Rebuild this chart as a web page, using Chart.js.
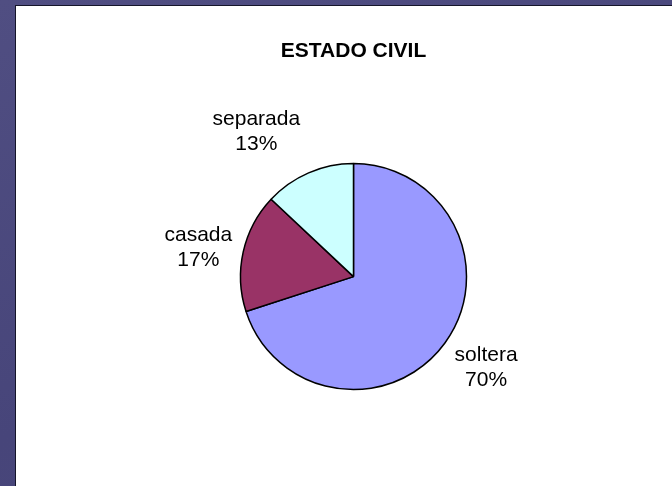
<!DOCTYPE html>
<html>
<head>
<meta charset="utf-8">
<script src="https://cdn.jsdelivr.net/npm/chart.js@4.4.0/dist/chart.umd.min.js"></script>
<style>
  html, body { margin: 0; padding: 0; }
  body {
    width: 672px; height: 486px; overflow: hidden;
    background: linear-gradient(160deg, #504e82 0%, #47457a 60%, #4a4878 100%);
    position: relative;
  }
  #panel {
    position: absolute; left: 15px; top: 5px;
    width: 657px; height: 481px;
    background: #fff;
    border-left: 1px solid #15152a;
    border-top: 1px solid #15152a;
  }
  #estado { display: block; }
</style>
</head>
<body>
<div id="panel">
  <canvas id="estado" width="656" height="480"></canvas>
</div>
<script>
// datos del grafico
const categorias = ["soltera", "casada", "separada"];
const porcentajes = [70, 17, 13];
const colores = ["#9999FF", "#993366", "#CCFFFF"];

// ajuste fino de las etiquetas (px)
const ajusteEtiqueta = [[4, -3], [0, 5], [-34, 1]];

const etiquetasPie = {
  id: "etiquetasPie",
  afterDatasetsDraw(chart) {
    const ctx = chart.ctx;
    const arcos = chart.getDatasetMeta(0).data;
    ctx.save();
    ctx.font = "21px 'Liberation Sans', Arial, sans-serif";
    ctx.fillStyle = "#000";
    ctx.textAlign = "center";
    ctx.textBaseline = "middle";
    arcos.forEach((arc, i) => {
      const p = arc.getProps(["x", "y", "startAngle", "endAngle", "outerRadius"], true);
      const medio = (p.startAngle + p.endAngle) / 2;
      const dist = p.outerRadius + 46;
      const x = p.x + Math.cos(medio) * dist + ajusteEtiqueta[i][0];
      const y = p.y + Math.sin(medio) * dist + ajusteEtiqueta[i][1];
      ctx.fillText(categorias[i], x, y - 12);
      ctx.fillText(porcentajes[i] + "%", x, y + 13);
    });
    ctx.restore();
  },
};

new Chart(document.getElementById("estado"), {
  type: "pie",
  data: {
    labels: categorias,
    datasets: [
      {
        data: porcentajes,
        backgroundColor: colores,
        borderColor: "#000",
        borderWidth: 1.5,
      },
    ],
  },
  plugins: [etiquetasPie],
  options: {
    responsive: false,
    animation: false,
    radius: 113,
    layout: { padding: { left: 19, right: 0, top: 0, bottom: 7 } },
    plugins: {
      legend: { display: false },
      tooltip: { enabled: false },
      title: {
        display: true,
        text: "ESTADO CIVIL",
        color: "#000",
        font: { family: "'Liberation Sans', Arial, sans-serif", size: 21, weight: "bold", lineHeight: 1.2 },
        padding: { top: 33, bottom: 10 },
      },
    },
  },
});
</script>
</body>
</html>
